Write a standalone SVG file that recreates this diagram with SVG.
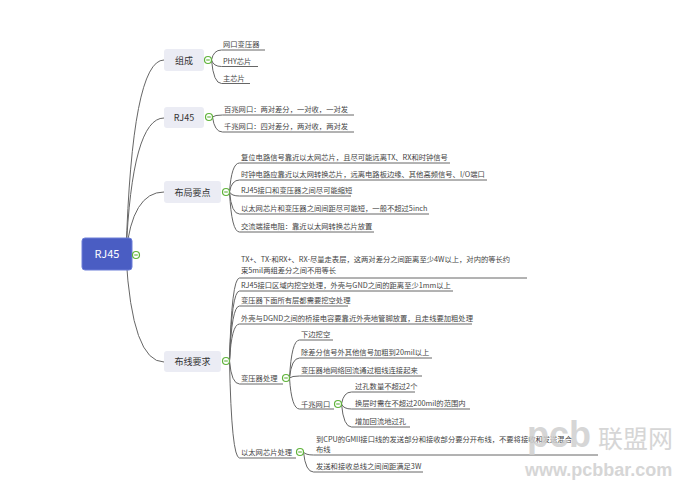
<svg xmlns="http://www.w3.org/2000/svg" width="680" height="484" viewBox="0 0 680 484">
<style>
.ln{fill:none;stroke:#666;stroke-width:1}
.t{font-family:"Noto Sans CJK SC","Liberation Sans",sans-serif;font-size:7.3px;fill:#444}
.bt{font-family:"Noto Sans CJK SC","Liberation Sans",sans-serif;font-size:9px;fill:#333;text-anchor:middle}
.br{fill:#ebecf4}
.wm{fill:#cfcfcf;opacity:0.85}
</style>
<defs>
<g id="col"><circle r="3.5" fill="#fff" stroke="#5fb33a" stroke-width="1.2"/><line x1="-1.8" y1="0" x2="1.8" y2="0" stroke="#5fb33a" stroke-width="1.1"/></g>
</defs>
<rect width="680" height="484" fill="#fff"/>
<g id="connectors">
<path class="ln" d="M126 254 Q132 60 164 60"/>
<path class="ln" d="M126 254 Q132 118 164 118"/>
<path class="ln" d="M126 254 Q132 192 164 192"/>
<path class="ln" d="M126 256 Q132 362 164 362"/>
<path class="ln" d="M211.5 60 Q213.5 50 221.5 50 L265 50"/>
<path class="ln" d="M211.5 60 Q213.5 66.5 221.5 66.5 L258 66.5"/>
<path class="ln" d="M211.5 60 Q213.5 83.5 221.5 83.5 L250 83.5"/>
<path class="ln" d="M212.5 117 Q214.5 115 222.5 115 L354 115"/>
<path class="ln" d="M212.5 117 Q214.5 132 222.5 132 L354 132"/>
<path class="ln" d="M229.5 192 Q231.5 163 239.5 163 L450 163"/>
<path class="ln" d="M229.5 192 Q231.5 180 239.5 180 L487 180"/>
<path class="ln" d="M229.5 192 Q231.5 196 239.5 196 L351 196"/>
<path class="ln" d="M229.5 192 Q231.5 214 239.5 214 L429 214"/>
<path class="ln" d="M229.5 192 Q231.5 232 239.5 232 L374 232"/>
<path class="ln" d="M229.5 361 Q231.5 278 239.5 278 L527 278"/>
<path class="ln" d="M229.5 361 Q231.5 291 239.5 291 L453 291"/>
<path class="ln" d="M229.5 361 Q231.5 306 239.5 306 L348 306"/>
<path class="ln" d="M229.5 361 Q231.5 324 239.5 324 L472 324"/>
<path class="ln" d="M229.5 361 Q231.5 384 239.5 384 L283 384"/>
<path class="ln" d="M229.5 361 Q231.5 458 239.5 458 L296 458"/>
<path class="ln" d="M289.5 378 Q291.5 340 299.5 340 L333 340"/>
<path class="ln" d="M289.5 378 Q291.5 358 299.5 358 L432 358"/>
<path class="ln" d="M289.5 378 Q291.5 376 299.5 376 L422 376"/>
<path class="ln" d="M289.5 378 Q291.5 409 299.5 409 L334 409"/>
<path class="ln" d="M341.5 404 Q343.5 392 351.5 392 L415 392"/>
<path class="ln" d="M341.5 404 Q343.5 409 351.5 409 L470 409"/>
<path class="ln" d="M341.5 404 Q343.5 427 351.5 427 L410 427"/>
<path class="ln" d="M303.5 452 Q305.5 455 313.5 455 L598 455"/>
<path class="ln" d="M303.5 452 Q305.5 472 313.5 472 L423 472"/>
</g>
<g id="root">
<rect x="82" y="238" width="50" height="32" rx="3" fill="#4a5dc3" stroke="#6c7fd8" stroke-width="1"/>
<text x="107" y="258" font-family="Noto Sans CJK SC,Liberation Sans,sans-serif" font-size="11" fill="#fff" text-anchor="middle">RJ45</text>
<use href="#col" x="136" y="255"/>
</g>
<g id="n-zucheng">
<rect class="br" x="164" y="49" width="40" height="22" rx="3"/>
<text class="bt" x="184" y="63.5">组成</text>
<use href="#col" x="208" y="60"/>
</g>
<g id="n-zc1"><text class="t" x="223" y="47">网口变压器</text></g>
<g id="n-zc2"><text class="t" x="223" y="63.5">PHY芯片</text></g>
<g id="n-zc3"><text class="t" x="223" y="80.5">主芯片</text></g>
<g id="n-rj45">
<rect class="br" x="164" y="107" width="40" height="21" rx="3"/>
<text class="bt" x="184" y="121">RJ45</text>
<use href="#col" x="209" y="117"/>
</g>
<g id="n-rj1"><text class="t" x="224" y="112">百兆网口：两对差分，一对收，一对发</text></g>
<g id="n-rj2"><text class="t" x="224" y="129">千兆网口：四对差分，两对收，两对发</text></g>
<g id="n-buju">
<rect class="br" x="164" y="181" width="57" height="22" rx="3"/>
<text class="bt" x="192.5" y="195.5">布局要点</text>
<use href="#col" x="226" y="192"/>
</g>
<g id="n-bj1"><text class="t" x="241" y="160">复位电路信号靠近以太网芯片，且尽可能远离TX、RX和时钟信号</text></g>
<g id="n-bj2"><text class="t" x="241" y="177">时钟电路应靠近以太网转换芯片，远离电路板边缘、其他高频信号、I/O端口</text></g>
<g id="n-bj3"><text class="t" x="241" y="193">RJ45接口和变压器之间尽可能缩短</text></g>
<g id="n-bj4"><text class="t" x="241" y="211">以太网芯片和变压器之间间距尽可能短，一般不超过5inch</text></g>
<g id="n-bj5"><text class="t" x="241" y="229">交流端接电阻：靠近以太网转换芯片放置</text></g>
<g id="n-buxian">
<rect class="br" x="164" y="351" width="57" height="21" rx="3"/>
<text class="bt" x="192.5" y="365">布线要求</text>
<use href="#col" x="226" y="361"/>
</g>
<g id="n-bx1"><text class="t" x="241" y="261.5">TX+、TX-和RX+、RX-尽量走表层，这两对差分之间距离至少4W以上，对内的等长约</text><text class="t" x="241" y="272.5">束5mil两组差分之间不用等长</text></g>
<g id="n-bx2"><text class="t" x="241" y="288">RJ45接口区域内挖空处理，外壳与GND之间的距离至少1mm以上</text></g>
<g id="n-bx3"><text class="t" x="241" y="303">变压器下面所有层都需要挖空处理</text></g>
<g id="n-bx4"><text class="t" x="241" y="321">外壳与DGND之间的桥接电容要靠近外壳地管脚放置，且走线要加粗处理</text></g>
<g id="n-byq">
<text class="t" x="241" y="381">变压器处理</text>
<use href="#col" x="286" y="378"/>
</g>
<g id="n-byq1"><text class="t" x="301" y="337">下边挖空</text></g>
<g id="n-byq2"><text class="t" x="301" y="355">除差分信号外其他信号加粗到20mil以上</text></g>
<g id="n-byq3"><text class="t" x="301" y="373">变压器地网络回流通过粗线连接起来</text></g>
<g id="n-qz">
<text class="t" x="301" y="406.5">千兆网口</text>
<use href="#col" x="338" y="404"/>
</g>
<g id="n-qz1"><text class="t" x="355" y="389">过孔数量不超过2个</text></g>
<g id="n-qz2"><text class="t" x="355" y="406">换层时需在不超过200mil的范围内</text></g>
<g id="n-qz3"><text class="t" x="355" y="424">增加回流地过孔</text></g>
<g id="n-ytw">
<text class="t" x="241" y="455">以太网芯片处理</text>
<use href="#col" x="300" y="452"/>
</g>
<g id="n-ytw1"><text class="t" x="316" y="441.5">到CPU的GMII接口线的发送部分和接收部分要分开布线，不要将接收和发送混合</text><text class="t" x="316" y="452">布线</text></g>
<g id="n-ytw2"><text class="t" x="316" y="469">发送和接收总线之间间距满足3W</text></g>
<g id="watermark">
<text class="wm" x="527" y="447" font-family="Liberation Sans,sans-serif" font-weight="bold" font-size="36">pcb</text>
<text class="wm" x="598" y="448" font-family="Noto Sans CJK SC,sans-serif" font-size="25">联盟网</text>
<text class="wm" x="525" y="476" font-family="Liberation Sans,sans-serif" font-weight="bold" font-size="18">www.pcbbar.com</text>
</g>
</svg>
